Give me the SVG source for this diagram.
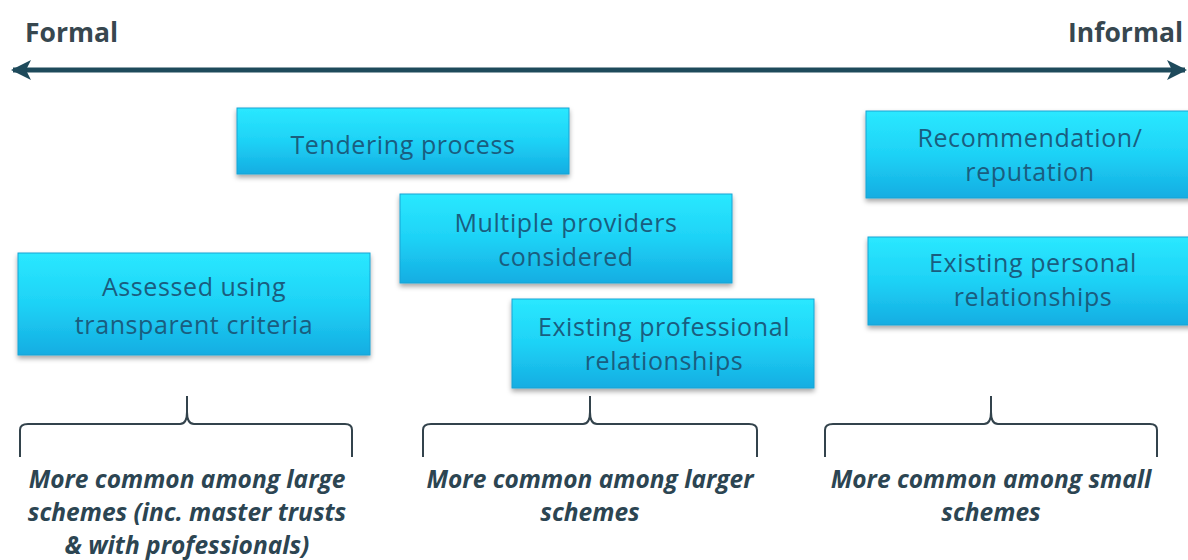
<svg xmlns="http://www.w3.org/2000/svg" width="1188" height="560" viewBox="0 0 1188 560">
<defs>
<linearGradient id="g" x1="0" y1="0" x2="0" y2="1">
<stop offset="0" stop-color="#2ae8ff"/>
<stop offset="0.5" stop-color="#1ed2f6"/>
<stop offset="1" stop-color="#15ade2"/>
</linearGradient>
<filter id="sh" x="-5%" y="-10%" width="110%" height="130%">
<feDropShadow dx="0" dy="3" stdDeviation="2.5" flood-color="#000" flood-opacity="0.35"/>
</filter>
<marker id="ah" viewBox="0 0 10 10" refX="9" refY="5" markerWidth="4" markerHeight="4" orient="auto-start-reverse" markerUnits="strokeWidth">
<path d="M0,0 L10,5 L0,10 L2.5,5 Z" fill="#1e4a5b"/>
</marker>
</defs>
<style>
.box{fill:url(#g);stroke:#1aa3d4;stroke-width:1;filter:url(#sh)}
.bt{font-family:"Open Sans","Liberation Sans",sans-serif;font-size:25px;letter-spacing:0.6px;fill:#1a5d7f;text-anchor:middle}
.hd{font-family:"Open Sans","Liberation Sans",sans-serif;font-size:26.5px;font-weight:bold;fill:#37474f}
.nt{font-family:"Open Sans","Liberation Sans",sans-serif;font-size:24.5px;font-weight:bold;font-style:italic;fill:#2c4552;text-anchor:middle}
.br{fill:none;stroke:#33434c;stroke-width:2}
</style>
<rect width="1188" height="560" fill="#ffffff"/>
<text class="hd" x="25" y="42">Formal</text>
<text class="hd" x="1183" y="42" text-anchor="end">Informal</text>
<g id="connectors">
<line x1="13" y1="70" x2="1185" y2="70" stroke="#1e4a5b" stroke-width="5" marker-start="url(#ah)" marker-end="url(#ah)"/>
<path class="br" d="M20,457 L20,430 Q20,424 28,424 L180,424 Q187,424 187,412 L187,396 M187,412 Q187,424 194,424 L345,424 Q352,424 352,430 L352,457"/>
<path class="br" d="M423,457 L423,430 Q423,424 431,424 L583,424 Q590,424 590,412 L590,396 M590,412 Q590,424 597,424 L749,424 Q757,424 757,430 L757,457"/>
<path class="br" d="M825,457 L825,430 Q825,424 833,424 L984,424 Q991,424 991,412 L991,396 M991,412 Q991,424 998,424 L1150,424 Q1157,424 1157,430 L1157,457"/>
</g>
<g id="n-tendering">
<rect class="box" x="237" y="108" width="332" height="66"/>
<text class="bt" x="403" y="154">Tendering process</text>
</g>
<g id="n-multiple">
<rect class="box" x="400" y="194" width="332" height="89"/>
<text class="bt" x="566" y="232">Multiple providers</text>
<text class="bt" x="566" y="266">considered</text>
</g>
<g id="n-assessed">
<rect class="box" x="18" y="253" width="352" height="102"/>
<text class="bt" x="194" y="296">Assessed using</text>
<text class="bt" x="194" y="334">transparent criteria</text>
</g>
<g id="n-professional">
<rect class="box" x="512" y="299" width="302" height="89"/>
<text class="bt" x="664" y="336">Existing professional</text>
<text class="bt" x="664" y="370">relationships</text>
</g>
<g id="n-recommendation">
<rect class="box" x="866" y="111" width="330" height="87"/>
<text class="bt" x="1030" y="147">Recommendation/</text>
<text class="bt" x="1030" y="181">reputation</text>
</g>
<g id="n-personal">
<rect class="box" x="868" y="237" width="328" height="88"/>
<text class="bt" x="1033" y="272">Existing personal</text>
<text class="bt" x="1033" y="306">relationships</text>
</g>
<g id="notes">
<text class="nt" x="187" y="488">More common among large</text>
<text class="nt" x="187" y="521">schemes (inc. master trusts</text>
<text class="nt" x="187" y="554">&amp; with professionals)</text>
<text class="nt" x="590" y="488">More common among larger</text>
<text class="nt" x="590" y="521">schemes</text>
<text class="nt" x="991" y="488">More common among small</text>
<text class="nt" x="991" y="521">schemes</text>
</g>
</svg>
